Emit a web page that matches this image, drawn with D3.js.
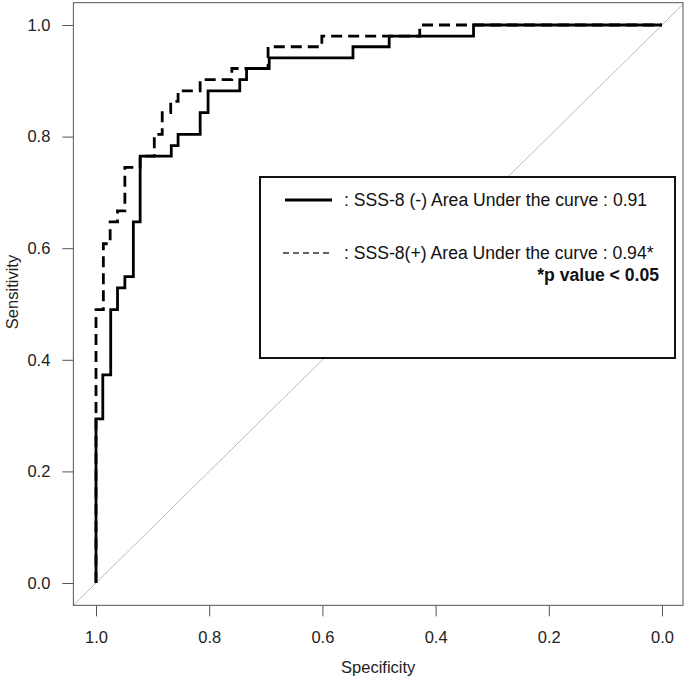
<!DOCTYPE html>
<html>
<head>
<meta charset="utf-8">
<script src="https://cdn.jsdelivr.net/npm/d3@7"></script>
<style>
  body { margin: 0; background: #fff; }
  svg { display: block; font-family: "Liberation Sans", Arial, sans-serif; }
</style>
</head>
<body>
<svg width="685" height="679"></svg>
<script>
// ROC corner points (specificity, sensitivity), drawn with a step-after curve
const negSpec = [1, 1, 0.988, 0.974, 0.962, 0.949, 0.934, 0.922, 0.867, 0.855, 0.816, 0.802, 0.746, 0.734, 0.694, 0.546, 0.482, 0.333, 0];
const negSens = [0, 0.294, 0.373, 0.490, 0.529, 0.549, 0.647, 0.765, 0.784, 0.804, 0.843, 0.882, 0.902, 0.922, 0.941, 0.961, 0.980, 1, 1];

const posSpec = [1, 1, 0.987, 0.975, 0.962, 0.949, 0.922, 0.897, 0.883, 0.868, 0.855, 0.816, 0.760, 0.696, 0.601, 0.428, 0];
const posSens = [0, 0.490, 0.608, 0.647, 0.667, 0.745, 0.765, 0.804, 0.843, 0.863, 0.882, 0.902, 0.922, 0.961, 0.980, 1, 1];

const tickValues = [0, 0.2, 0.4, 0.6, 0.8, 1.0];
const legendLabels = [
  ": SSS-8 (-) Area Under the curve : 0.91",
  ": SSS-8(+) Area Under the curve : 0.94*"
];
const noteLabel = "*p value < 0.05";

const svg = d3.select("svg");

const xScale = d3.scaleLinear().domain([1, 0]).range([96, 662]);
const yScale = d3.scaleLinear().domain([0, 1]).range([583, 25]);

const boxLeft = xScale(1.04);
const boxRight = 683;
const boxTop = yScale(1.04);
const boxBottom = yScale(-0.04);

// clip for the plot area
svg.append("defs").append("clipPath").attr("id", "plotClip")
  .append("rect")
  .attr("x", boxLeft).attr("y", boxTop)
  .attr("width", boxRight - boxLeft).attr("height", boxBottom - boxTop);

const plot = svg.append("g").attr("clip-path", "url(#plotClip)");

// diagonal reference line
plot.append("line")
  .attr("x1", xScale(1.04)).attr("y1", yScale(-0.04))
  .attr("x2", xScale(-0.04)).attr("y2", yScale(1.04))
  .attr("stroke", "#bbb")
  .attr("stroke-width", 1);

const line = d3.line()
  .x((d) => xScale(d[0]))
  .y((d) => yScale(d[1]))
  .curve(d3.curveStepAfter);

const negPts = negSpec.map((s, i) => [s, negSens[i]]);
const posPts = posSpec.map((s, i) => [s, posSens[i]]);

plot.append("path")
  .attr("d", line(posPts))
  .attr("fill", "none")
  .attr("stroke", "#000")
  .attr("stroke-width", 2.8)
  .attr("stroke-dasharray", "11,6");

plot.append("path")
  .attr("d", line(negPts))
  .attr("fill", "none")
  .attr("stroke", "#000")
  .attr("stroke-width", 2.8);

// frame
svg.append("rect")
  .attr("x", boxLeft).attr("y", boxTop)
  .attr("width", boxRight - boxLeft).attr("height", boxBottom - boxTop)
  .attr("fill", "none")
  .attr("stroke", "#555")
  .attr("stroke-width", 1);

// axes
const fmt = d3.format(".1f");
const yAxisG = svg.append("g")
  .attr("transform", `translate(${boxLeft},0)`)
  .call(d3.axisLeft(yScale).tickValues(tickValues).tickFormat(fmt).tickSize(11).tickPadding(12));
const xAxisG = svg.append("g")
  .attr("transform", `translate(0,${boxBottom})`)
  .call(d3.axisBottom(xScale).tickValues(tickValues).tickFormat(fmt).tickSize(11).tickPadding(15));

[xAxisG, yAxisG].forEach((g) => {
  g.select(".domain").remove();
  g.selectAll(".tick line").attr("stroke", "#555");
  g.selectAll(".tick text")
    .attr("fill", "#222")
    .style("font-size", "16.5px")
    .style("font-family", "'Liberation Sans', Arial, sans-serif");
});

svg.append("text")
  .attr("x", (boxLeft + boxRight) / 2)
  .attr("y", 673)
  .attr("text-anchor", "middle")
  .attr("fill", "#222")
  .style("font-size", "16.5px")
  .text("Specificity");

svg.append("text")
  .attr("transform", `translate(18,292) rotate(-90)`)
  .attr("text-anchor", "middle")
  .attr("fill", "#222")
  .style("font-size", "16.5px")
  .text("Sensitivity");

// legend
const legend = svg.append("g");
legend.append("rect")
  .attr("x", 260).attr("y", 177)
  .attr("width", 415).attr("height", 181)
  .attr("fill", "#fff")
  .attr("stroke", "#111")
  .attr("stroke-width", 2);

legend.append("line")
  .attr("x1", 285).attr("x2", 332)
  .attr("y1", 200).attr("y2", 200)
  .attr("stroke", "#000").attr("stroke-width", 3);

legend.append("line")
  .attr("x1", 283).attr("x2", 333)
  .attr("y1", 253).attr("y2", 253)
  .attr("stroke", "#333").attr("stroke-width", 1.5)
  .attr("stroke-dasharray", "6,4");

legend.selectAll("text.lab")
  .data(legendLabels)
  .enter()
  .append("text")
  .attr("class", "lab")
  .attr("x", 344)
  .attr("y", (d, i) => 206 + i * 53)
  .attr("fill", "#111")
  .style("font-size", "17.6px")
  .text((d) => d);

legend.append("text")
  .attr("x", 659)
  .attr("y", 281)
  .attr("text-anchor", "end")
  .attr("fill", "#111")
  .style("font-size", "17.6px")
  .style("font-weight", "bold")
  .text(noteLabel);
</script>
</body>
</html>
